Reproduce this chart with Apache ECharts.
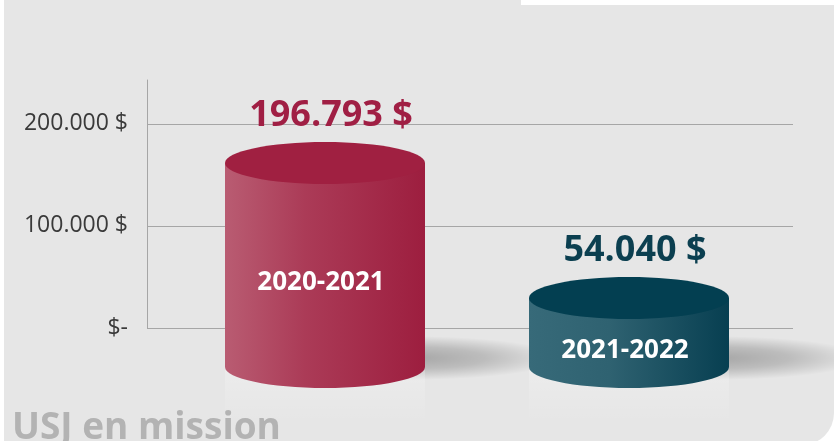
<!DOCTYPE html>
<html>
<head>
<meta charset="utf-8">
<title>USJ en mission</title>
<script src="https://cdn.jsdelivr.net/npm/echarts@6.0.0/dist/echarts.min.js"></script>
<style>
  html, body { margin: 0; padding: 0; background: #ffffff; }
  #chart { width: 834px; height: 441px; }
</style>
</head>
<body>
<div id="chart"></div>
<script>
// data
var categories = ['2020-2021', '2021-2022'];
var amounts = [196793, 54040];
var tickValues = [0, 100000, 200000];
var tickLabels = ['$-', '100.000 $', '200.000 $'];

// colours per cylinder
var topColors = ['#a02041', '#033f51'];
var sideLight = ['#b95c72', '#376a79'];
var sideMid = ['#ab3b57', '#2f6271'];
var sideDark = ['#9d1e3f', '#073f51'];
var labelColors = ['#a01f44', '#0b3f50'];

var FONT = '"Open Sans", "Noto Sans", sans-serif';

function money(v) {
    return String(v).replace(/\B(?=(\d{3})+(?!\d))/g, '.') + ' $';
}

function renderCylinder(params, api) {
    var i = api.value(0);
    var top = api.coord([i, api.value(1)]);
    var base = api.coord([i, 0]);
    var cx = top[0];
    var rx = 100, ry = 21;
    var topY = top[1];
    var baseY = base[1] + 18;

    var side = new echarts.graphic.LinearGradient(0, 0, 1, 0, [
        { offset: 0, color: sideLight[i] },
        { offset: 0.4, color: sideMid[i] },
        { offset: 1, color: sideDark[i] }
    ]);

    return {
        type: 'group',
        children: [
            // soft floor shadow
            {
                type: 'circle',
                x: cx + 85, y: baseY - 9, scaleX: 150, scaleY: 22,
                shape: { cx: 0, cy: 0, r: 1 },
                style: {
                    fill: new echarts.graphic.RadialGradient(0.5, 0.5, 0.5, [
                        { offset: 0, color: 'rgba(0,0,0,0.28)' },
                        { offset: 0.5, color: 'rgba(0,0,0,0.18)' },
                        { offset: 1, color: 'rgba(0,0,0,0)' }
                    ])
                },
                silent: true
            },
            // faint reflection
            {
                type: 'rect',
                shape: { x: cx - rx, y: baseY, width: rx * 2, height: 55 },
                style: {
                    fill: new echarts.graphic.LinearGradient(0, 0, 0, 1, [
                        { offset: 0, color: 'rgba(255,255,255,0.25)' },
                        { offset: 1, color: 'rgba(255,255,255,0)' }
                    ])
                },
                silent: true
            },
            {
                type: 'ellipse',
                shape: { cx: cx, cy: baseY, rx: rx, ry: ry },
                style: { fill: side }
            },
            {
                type: 'rect',
                shape: { x: cx - rx, y: topY, width: rx * 2, height: baseY - topY },
                style: { fill: side }
            },
            {
                type: 'ellipse',
                shape: { cx: cx, cy: topY, rx: rx, ry: ry },
                style: { fill: topColors[i] }
            },
            {
                type: 'text',
                x: cx - 4, y: (topY + baseY) / 2 + ry - 3,
                style: {
                    text: categories[i],
                    fill: '#ffffff',
                    font: 'bold 26px ' + FONT,
                    align: 'center',
                    verticalAlign: 'middle'
                }
            },
            {
                type: 'text',
                x: cx + 6, y: topY - ry - 26,
                style: {
                    text: money(api.value(1)),
                    fill: labelColors[i],
                    font: 'bold 36px ' + FONT,
                    align: 'center',
                    verticalAlign: 'middle'
                }
            }
        ]
    };
}

var chart = echarts.init(document.getElementById('chart'), null, { renderer: 'canvas' });

var option = {
    animation: false,
    backgroundColor: '#ffffff',
    graphic: [
        {
            type: 'rect', z: -10, silent: true,
            shape: { x: 4, y: 0, width: 830, height: 445, r: [0, 0, 32, 0] },
            style: { fill: '#e6e6e6' }
        },
        {
            type: 'rect', z: -9, silent: true,
            shape: { x: 521, y: 0, width: 313, height: 5 },
            style: { fill: '#ffffff' }
        },
        {
            type: 'text', z: 10, left: 12, top: 410,
            style: {
                text: 'USJ en mission',
                fill: '#b3b3b3',
                font: 'bold 37px ' + FONT
            }
        }
    ],
    grid: [
        { left: 147, top: 80, width: 646, height: 248 },
        { left: 173, top: 160, width: 608, height: 189 }
    ],
    xAxis: [
        {
            type: 'category', gridIndex: 0, data: categories,
            axisLine: { show: false }, axisTick: { show: false }, axisLabel: { show: false }
        },
        {
            type: 'category', gridIndex: 1, data: categories, show: false
        }
    ],
    yAxis: [
        {
            type: 'value', gridIndex: 0, min: 0, max: 243000, interval: 100000,
            axisLine: { show: true, lineStyle: { color: '#a6a6a6', width: 1 } },
            axisTick: { show: false },
            splitLine: { show: true, showMaxLine: false, lineStyle: { color: '#a6a6a6', width: 1 } },
            axisLabel: {
                showMaxLabel: false,
                margin: 19,
                color: '#3a3a3a',
                fontFamily: FONT,
                fontSize: 23,
                padding: [0, 0, 8, 0],
                formatter: function (v) {
                    var k = tickValues.indexOf(v);
                    return k >= 0 ? tickLabels[k] : '';
                }
            }
        },
        {
            type: 'value', gridIndex: 1, min: 0, max: 200000, show: false
        }
    ],
    series: [
        {
            type: 'custom',
            xAxisIndex: 1,
            yAxisIndex: 1,
            data: amounts.map(function (v, i) { return [i, v]; }),
            renderItem: renderCylinder,
            clip: false
        }
    ]
};

chart.setOption(option);
</script>
</body>
</html>
